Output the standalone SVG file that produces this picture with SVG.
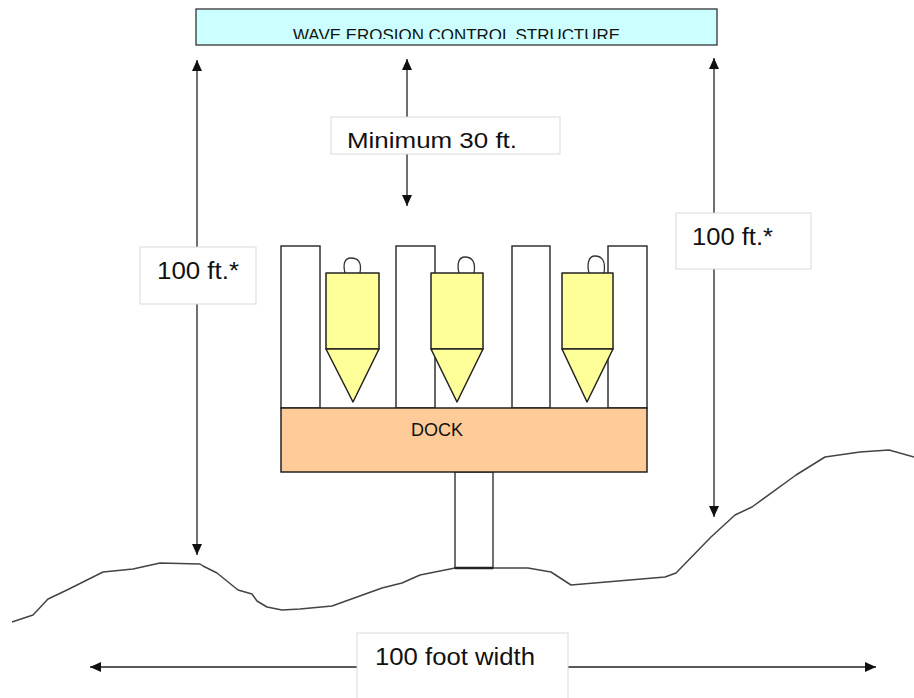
<svg xmlns="http://www.w3.org/2000/svg" width="914" height="698" viewBox="0 0 914 698">
  <style>
    .lbl { font-family: "Liberation Sans", Arial, sans-serif; fill: #111; }
    .lblbox { fill: #fff; stroke: #d9d9d9; stroke-width: 1; }
    .post { fill: #fff; stroke: #333; stroke-width: 1.5; }
    .bob { fill: #ffff99; stroke: #222; stroke-width: 1.5; stroke-linejoin: round; }
    .hook { fill: none; stroke: #333; stroke-width: 1.3; }
    .dim { stroke: #222; stroke-width: 1.3; fill: none; }
  </style>
  <defs>
    <marker id="ah" markerUnits="userSpaceOnUse" markerWidth="12" markerHeight="12" refX="11" refY="5" orient="auto-start-reverse" viewBox="0 0 12 10">
      <path d="M0,0 L11,5 L0,10 Z" fill="#111"/>
    </marker>
    <clipPath id="topclip"><rect x="196" y="9" width="521" height="30"/></clipPath>
  </defs>
  <rect width="914" height="698" fill="#fff"/>

  <g id="title">
    <rect x="196" y="9" width="521" height="36" fill="#ccffff" stroke="#333" stroke-width="1.3"/>
    <text class="lbl" x="293" y="41" font-size="17" textLength="327" lengthAdjust="spacingAndGlyphs" clip-path="url(#topclip)">WAVE  EROSION CONTROL  STRUCTURE</text>
  </g>

  <g id="ground">
    <path d="M12,622 L33,615 L48,599 L67,590 L103,572 L133,569 L160,563 L200,564 L203,566 L217,573 L238,590 L252,594 L257,601 L267,607 L282,610 L300,609 L332,606 L382,588 L402,583 L420,575 L455,568 L528,568 L551,572 L571,585 L665,577 L676,573 L711,537 L735,515 L752,507 L796,475 L825,457 L860,452 L889,450 L914,457" fill="none" stroke="#444" stroke-width="1.5" stroke-linejoin="round"/>
  </g>

  <g id="posts">
    <rect class="post" x="281" y="246" width="39" height="162"/>
    <rect class="post" x="396" y="246" width="39" height="162"/>
    <rect class="post" x="512" y="246" width="38" height="162"/>
    <rect class="post" x="608" y="246" width="39" height="162"/>
  </g>

  <g id="pile">
    <rect x="455" y="472" width="38" height="96" fill="#fff" stroke="#222" stroke-width="1.3"/>
    <line x1="455" y1="568" x2="493" y2="568" stroke="#222" stroke-width="2.5"/>
  </g>

  <g id="bob1">
    <path class="hook" d="M345,273 C343,265 344,258 351,258 C358,258 362,262 360,273"/>
    <rect class="bob" x="326" y="273" width="53" height="76"/>
    <path class="bob" d="M326,349 L379,349 L353,402 Z"/>
  </g>
  <g id="bob2">
    <path class="hook" d="M459,273 C457,265 458,257 465,257 C472,257 476,262 474,273"/>
    <rect class="bob" x="431" y="273" width="52" height="76"/>
    <path class="bob" d="M431,349 L483,349 L457,402 Z"/>
  </g>
  <g id="bob3">
    <path class="hook" d="M589,273 C587,265 588,256 595,256 C602,256 606,261 604,273"/>
    <rect class="bob" x="562" y="273" width="51" height="76"/>
    <path class="bob" d="M562,349 L613,349 L587,402 Z"/>
  </g>

  <g id="dock">
    <rect x="281" y="408" width="366" height="64" fill="#ffcc99" stroke="#222" stroke-width="1.5"/>
    <text class="lbl" x="437" y="436" font-size="18" text-anchor="middle">DOCK</text>
  </g>

  <g id="connectors">
    <line class="dim" x1="197" y1="60" x2="197" y2="555" marker-start="url(#ah)" marker-end="url(#ah)"/>
    <line class="dim" x1="407" y1="59" x2="407" y2="206" marker-start="url(#ah)" marker-end="url(#ah)"/>
    <line class="dim" x1="714" y1="58" x2="714" y2="517" marker-start="url(#ah)" marker-end="url(#ah)"/>
    <line class="dim" x1="90" y1="667" x2="876" y2="667" marker-start="url(#ah)" marker-end="url(#ah)"/>
  </g>

  <g id="label-min">
    <rect class="lblbox" x="331" y="117" width="229" height="37"/>
    <text class="lbl" x="347" y="148" font-size="22" textLength="170" lengthAdjust="spacingAndGlyphs">Minimum 30 ft.</text>
  </g>
  <g id="label-left">
    <rect class="lblbox" x="140" y="247" width="116" height="57"/>
    <text class="lbl" x="157" y="279" font-size="23" textLength="82" lengthAdjust="spacingAndGlyphs">100 ft.*</text>
  </g>
  <g id="label-right">
    <rect class="lblbox" x="676" y="213" width="135" height="56"/>
    <text class="lbl" x="692" y="245" font-size="23" textLength="81" lengthAdjust="spacingAndGlyphs">100 ft.*</text>
  </g>
  <g id="label-width">
    <rect class="lblbox" x="357" y="633" width="211" height="70"/>
    <text class="lbl" x="375" y="665" font-size="23" textLength="160" lengthAdjust="spacingAndGlyphs">100 foot width</text>
  </g>
</svg>
